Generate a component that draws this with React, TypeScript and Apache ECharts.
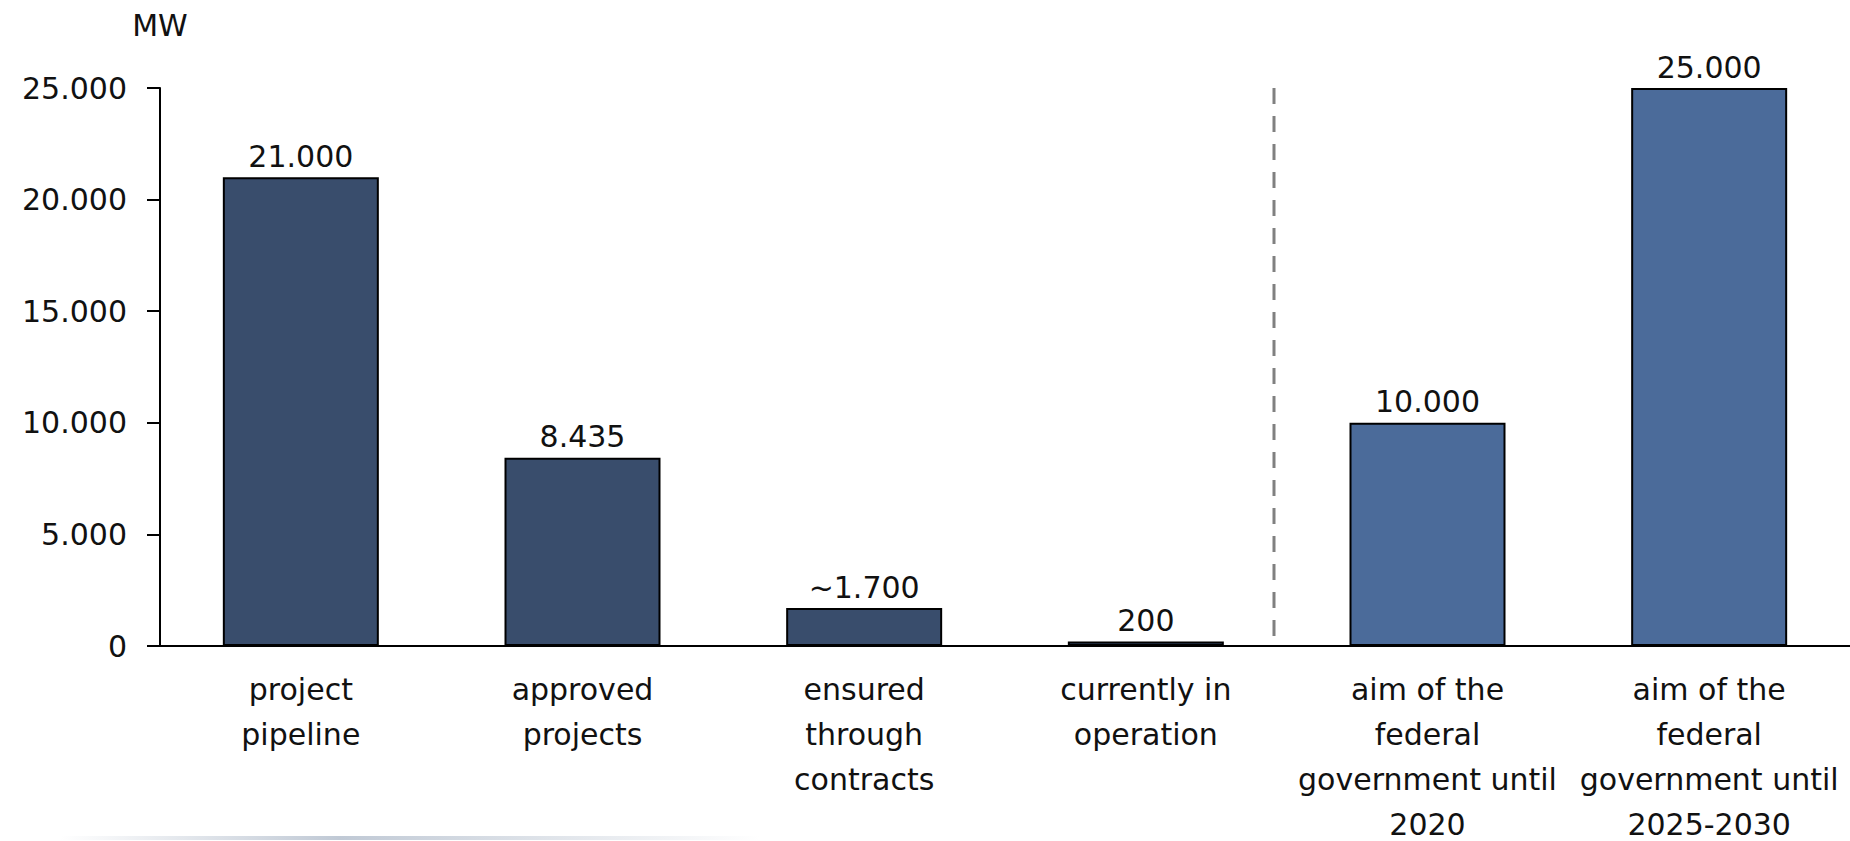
import React, { useEffect, useRef } from "react";
import * as echarts from "echarts";

const categories = [
  "project\npipeline",
  "approved\nprojects",
  "ensured\nthrough\ncontracts",
  "currently in\noperation",
  "aim of the\nfederal\ngovernment until\n2020",
  "aim of the\nfederal\ngovernment until\n2025-2030",
];
const values = [21000, 8435, 1700, 200, 10000, 25000];
const valueLabels = ["21.000", "8.435", "~1.700", "200", "10.000", "25.000"];
const groups = ["status", "status", "status", "status", "target", "target"];
const yTicks = { min: 0, max: 25000, interval: 5000 };
const unit = "MW";

const FONT = "DejaVu Sans";
const TEXT = "#111";
const DARK = "#394d6c";
const LIGHT = "#4b6b9a";

function fmt(v: number): string {
  const s = String(Math.round(v));
  return s.replace(/\B(?=(\d{3})+(?!\d))/g, ".");
}

export default function App() {
  const ref = useRef<HTMLDivElement>(null);
  useEffect(() => {
    if (!ref.current) return;
    const chart = echarts.init(ref.current, undefined, { renderer: "svg" });
    chart.setOption({
      animation: false,
      backgroundColor: "#fff",
      grid: {
        left: 160,
        right: 0,
        top: 88,
        bottom: 195,
        containLabel: false,
        outerBoundsMode: "none",
      },
      xAxis: {
        type: "category",
        data: categories,
        axisLine: { lineStyle: { color: "#000", width: 2 } },
        axisTick: { show: false },
        axisLabel: {
          color: TEXT,
          fontFamily: FONT,
          fontSize: 30,
          lineHeight: 45,
          margin: 21,
          interval: 0,
        },
      },
      yAxis: {
        type: "value",
        min: yTicks.min,
        max: yTicks.max,
        interval: yTicks.interval,
        splitLine: { show: false },
        axisLine: { show: true, lineStyle: { color: "#000", width: 2 } },
        axisTick: { show: true, length: 13, lineStyle: { color: "#000", width: 2 } },
        axisLabel: {
          color: TEXT,
          fontFamily: FONT,
          fontSize: 30,
          margin: 33,
          formatter: (v: number) => fmt(v),
        },
      },
      series: [
        {
          type: "bar",
          barWidth: 156,
          data: values.map((v, i) => ({
            value: v,
            itemStyle: {
              color: groups[i] === "status" ? DARK : LIGHT,
              borderColor: "#000",
              borderWidth: 2,
            },
          })),
          label: {
            show: true,
            position: "top",
            distance: 6,
            color: TEXT,
            fontFamily: FONT,
            fontSize: 30,
            formatter: (p: any) => valueLabels[p.dataIndex],
          },
        },
      ],
      graphic: [
        {
          type: "text",
          x: 160,
          y: 25,
          style: {
            text: unit,
            fill: TEXT,
            font: `30px "${FONT}"`,
            align: "center",
            verticalAlign: "middle",
          },
        },
        {
          type: "line",
          shape: { x1: 1274, y1: 88, x2: 1274, y2: 640 },
          style: { stroke: "#808080", lineWidth: 3, lineDash: [16, 12] },
        },
        {
          type: "rect",
          shape: { x: 60, y: 836, width: 700, height: 4 },
          style: {
            fill: new echarts.graphic.LinearGradient(0, 0, 1, 0, [
              { offset: 0, color: "rgba(150,165,185,0)" },
              { offset: 0.4, color: "rgba(150,165,185,0.6)" },
              { offset: 1, color: "rgba(150,165,185,0)" },
            ]),
          },
        },
      ],
    });
    return () => chart.dispose();
  }, []);
  return (
    <div
      ref={ref}
      style={{ position: "absolute", left: 0, top: 0, width: 1850, height: 841 }}
    />
  );
}
